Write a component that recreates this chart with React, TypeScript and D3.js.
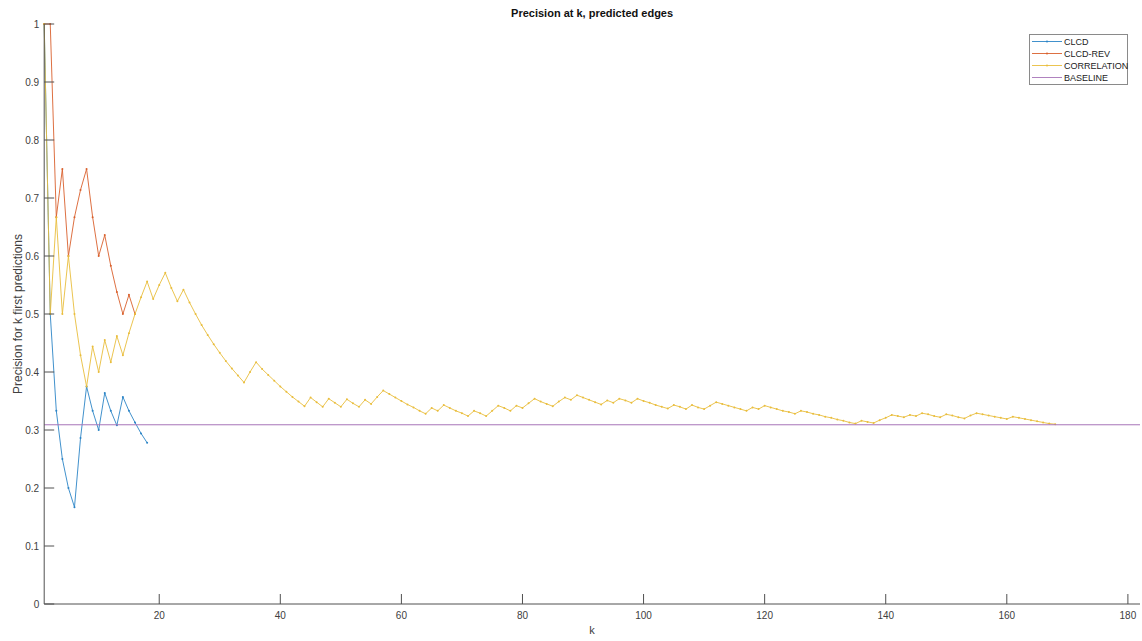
import React from 'react';
import * as d3 from 'd3';

const title = 'Precision at k, predicted edges';
const xLabel = 'k';
const yLabel = 'Precision for k first predictions';
const seriesNames = ['CLCD', 'CLCD-REV', 'CORRELATION', 'BASELINE'];
const seriesColors = ['#2b84c6', '#d9602c', '#e9bd3c', '#a774b8'];
const xTicks = [20, 40, 60, 80, 100, 120, 140, 160, 180];
const yTicks = [0, 0.1, 0.2, 0.3, 0.4, 0.5, 0.6, 0.7, 0.8, 0.9, 1];
const yTickLabels = ['0', '0.1', '0.2', '0.3', '0.4', '0.5', '0.6', '0.7', '0.8', '0.9', '1'];
const xDomain = [1, 182];
const yDomain = [0, 1];

// precision at k = 1..n
const clcd = [1, 0.5, 0.333, 0.25, 0.2, 0.167, 0.286, 0.375, 0.333, 0.3, 0.364, 0.333, 0.308, 0.357, 0.333, 0.313, 0.294, 0.278];
const clcdRev = [1, 1, 0.667, 0.75, 0.6, 0.667, 0.714, 0.75, 0.667, 0.6, 0.636, 0.583, 0.538, 0.5, 0.533, 0.5];
const correlation = [
  1, 0.5, 0.667, 0.5, 0.6, 0.5, 0.429, 0.375, 0.444, 0.4,
  0.455, 0.417, 0.462, 0.429, 0.467, 0.5, 0.529, 0.556, 0.526, 0.55,
  0.571, 0.545, 0.522, 0.542, 0.52, 0.5, 0.481, 0.464, 0.448, 0.433,
  0.419, 0.406, 0.394, 0.382, 0.4, 0.417, 0.405, 0.395, 0.385, 0.375,
  0.366, 0.357, 0.349, 0.341, 0.356, 0.348, 0.34, 0.354, 0.347, 0.34,
  0.353, 0.346, 0.34, 0.352, 0.345, 0.357, 0.368, 0.362, 0.356, 0.35,
  0.344, 0.339, 0.333, 0.328, 0.338, 0.333, 0.343, 0.338, 0.333, 0.329,
  0.324, 0.333, 0.329, 0.324, 0.333, 0.342, 0.338, 0.333, 0.342, 0.338,
  0.346, 0.354, 0.349, 0.345, 0.341, 0.349, 0.356, 0.352, 0.36, 0.356,
  0.352, 0.348, 0.344, 0.351, 0.347, 0.354, 0.351, 0.347, 0.354, 0.35,
  0.347, 0.343, 0.34, 0.337, 0.343, 0.34, 0.336, 0.343, 0.339, 0.336,
  0.342, 0.348, 0.345, 0.342, 0.339, 0.336, 0.333, 0.339, 0.336, 0.342,
  0.339, 0.336, 0.333, 0.331, 0.328, 0.333, 0.331, 0.328, 0.326, 0.323,
  0.321, 0.318, 0.316, 0.313, 0.311, 0.316, 0.314, 0.312, 0.317, 0.321,
  0.326, 0.324, 0.322, 0.326, 0.324, 0.329, 0.327, 0.324, 0.322, 0.327,
  0.325, 0.322, 0.32, 0.325, 0.329, 0.327, 0.325, 0.323, 0.321, 0.319,
  0.323, 0.321, 0.319, 0.317, 0.315, 0.313, 0.311, 0.31
];
const baseline = 0.309;

const W = 1142;
const H = 641;
const plotLeft = 44.2;
const plotRight = 1140;
const plotTop = 24;
const plotBottom = 604;
const font = '"Liberation Sans", Arial, Helvetica, sans-serif';

export default function App() {
  const x = d3.scaleLinear().domain(xDomain).range([plotLeft, plotRight]);
  const y = d3.scaleLinear().domain(yDomain).range([plotBottom, plotTop]);
  const line = d3.line<[number, number]>().x(d => x(d[0])).y(d => y(d[1]));

  const toPts = (arr: number[]) => arr.map((v, i) => [i + 1, v] as [number, number]);
  const series = [clcd, clcdRev, correlation].map(toPts);
  const basePts: [number, number][] = [[xDomain[0], baseline], [xDomain[1], baseline]];

  const axisColor = '#505050';
  const textColor = '#404040';

  return (
    <svg width={W} height={H} style={{ position: 'absolute', left: 0, top: 0, background: '#fff' }} fontFamily={font}>
      <rect x={0} y={0} width={W} height={H} fill="#fff" />
      {/* series lines */}
      {series.map((pts, si) => (
        <g key={si}>
          <path d={line(pts) || ''} fill="none" stroke={seriesColors[si]} strokeWidth={0.9} />
          {pts.map((p, pi) => (
            <circle key={pi} cx={x(p[0])} cy={y(p[1])} r={1} fill={seriesColors[si]} />
          ))}
        </g>
      ))}
      <path d={line(basePts) || ''} fill="none" stroke={seriesColors[3]} strokeWidth={1} />

      {/* axes */}
      <line x1={plotLeft} x2={plotLeft} y1={plotTop} y2={plotBottom} stroke={axisColor} strokeWidth={1} />
      <line x1={plotLeft} x2={plotRight} y1={plotBottom} y2={plotBottom} stroke={axisColor} strokeWidth={1} />
      {yTicks.map((t, i) => (
        <g key={'y' + i}>
          <line x1={plotLeft} x2={plotLeft + 10} y1={y(t)} y2={y(t)} stroke={axisColor} strokeWidth={1} />
          <text x={plotLeft - 5} y={y(t) + 3.5} textAnchor="end" fontSize={10} fill={textColor}>{yTickLabels[i]}</text>
        </g>
      ))}
      {xTicks.map((t, i) => (
        <g key={'x' + i}>
          <line x1={x(t)} x2={x(t)} y1={plotBottom} y2={plotBottom - 10} stroke={axisColor} strokeWidth={1} />
          <text x={x(t)} y={plotBottom + 15} textAnchor="middle" fontSize={10} fill={textColor}>{t}</text>
        </g>
      ))}

      {/* labels */}
      <text x={(plotLeft + plotRight) / 2} y={17} textAnchor="middle" fontSize={11} fontWeight="bold" fill="#111">{title}</text>
      <text x={(plotLeft + plotRight) / 2} y={634} textAnchor="middle" fontSize={11} fill={textColor}>{xLabel}</text>
      <text transform={`translate(22,${(plotTop + plotBottom) / 2}) rotate(-90)`} textAnchor="middle" fontSize={12} fill={textColor}>{yLabel}</text>

      {/* legend */}
      <g>
        <rect x={1029.5} y={34.5} width={98} height={50} fill="#fff" stroke="#8a8a8a" strokeWidth={1} />
        {seriesNames.map((name, i) => {
          const ly = 41.5 + i * 12;
          return (
            <g key={name}>
              <line x1={1032} x2={1062} y1={ly} y2={ly} stroke={seriesColors[i]} strokeWidth={0.9} />
              {i < 3 && <circle cx={1047} cy={ly} r={1} fill={seriesColors[i]} />}
              <text x={1064} y={ly + 3.3} fontSize={9} fill="#222">{name}</text>
            </g>
          );
        })}
      </g>
    </svg>
  );
}
